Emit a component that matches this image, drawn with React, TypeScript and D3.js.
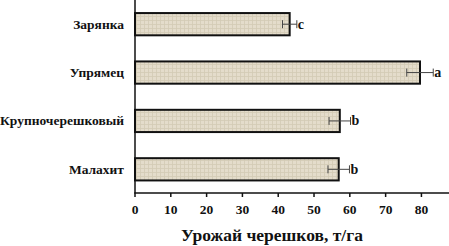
import React from "react";
import * as d3 from "d3";

const varieties = ["Зарянка", "Упрямец", "Крупночерешковый", "Малахит"];
const yieldValues = [43.2, 79.6, 57.2, 56.9];
const errorValues = [2.0, 3.7, 3.0, 3.0];
const groupLetters = ["c", "a", "b", "b"];
const xTicks = [0, 10, 20, 30, 40, 50, 60, 70, 80];
const axisTitle = "Урожай черешков, т/га";

const W = 449;
const H = 246;
const margin = { left: 135, right: 0, top: 0, bottom: 53 };
const serif = { fontFamily: '"Liberation Serif", "Times New Roman", serif', fontWeight: 700 };

export default function App() {
  const x = d3.scaleLinear().domain([0, 87.7]).range([margin.left, W - margin.right]);
  const y = d3
    .scaleBand<string>()
    .domain(varieties)
    .range([0, H - margin.bottom + 0.5])
    .paddingInner(0.54)
    .paddingOuter(0.27);
  const axisY = H - margin.bottom;

  return (
    <svg
      width={W}
      height={H}
      style={{ position: "absolute", left: 0, top: 0, background: "#fff" }}
    >
      <defs>
        <pattern id="weave" width="4" height="4" patternUnits="userSpaceOnUse">
          <rect width="4" height="4" fill="#e4dccb" />
          <path d="M0 0.5H4M0.5 0V4" stroke="#d3cab5" strokeWidth="0.8" />
        </pattern>
      </defs>

      {varieties.map((v, i) => {
        const by = y(v)!;
        const bh = y.bandwidth();
        const cy = by + bh / 2;
        const x0 = x(0);
        const x1 = x(yieldValues[i]);
        const xl = x(yieldValues[i] - errorValues[i]);
        const xr = x(yieldValues[i] + errorValues[i]);
        return (
          <g key={v}>
            <rect
              x={x0}
              y={by}
              width={x1 - x0}
              height={bh}
              fill="url(#weave)"
              stroke="#111"
              strokeWidth={2}
            />
            <line x1={xl} x2={xr} y1={cy} y2={cy} stroke="#444" strokeWidth={1} />
            <line x1={xl} x2={xl} y1={cy - 4} y2={cy + 4} stroke="#444" strokeWidth={1} />
            <line x1={xr} x2={xr} y1={cy - 4} y2={cy + 4} stroke="#444" strokeWidth={1} />
            <text x={xr + 1} y={cy + 4.5} fontSize={14} fill="#111" style={serif}>
              {groupLetters[i]}
            </text>
            <text
              x={124}
              y={cy + 4.5}
              textAnchor="end"
              fontSize={13.5}
              fill="#111"
              style={serif}
            >
              {v}
            </text>
          </g>
        );
      })}

      {/* axes */}
      <line x1={x(0)} x2={x(0)} y1={0} y2={axisY} stroke="#111" strokeWidth={1.5} />
      <line x1={x(0) - 0.75} x2={W} y1={axisY} y2={axisY} stroke="#111" strokeWidth={1.5} />
      {xTicks.map((t) => (
        <g key={t}>
          <line x1={x(t)} x2={x(t)} y1={axisY} y2={axisY + 4} stroke="#111" strokeWidth={1.5} />
          <text
            x={x(t)}
            y={axisY + 21}
            textAnchor="middle"
            fontSize={13.5}
            fill="#111"
            style={serif}
          >
            {t}
          </text>
        </g>
      ))}
      <text
        x={272}
        y={241}
        textAnchor="middle"
        fontSize={17.5}
        fill="#111"
        style={serif}
      >
        {axisTitle}
      </text>
    </svg>
  );
}
